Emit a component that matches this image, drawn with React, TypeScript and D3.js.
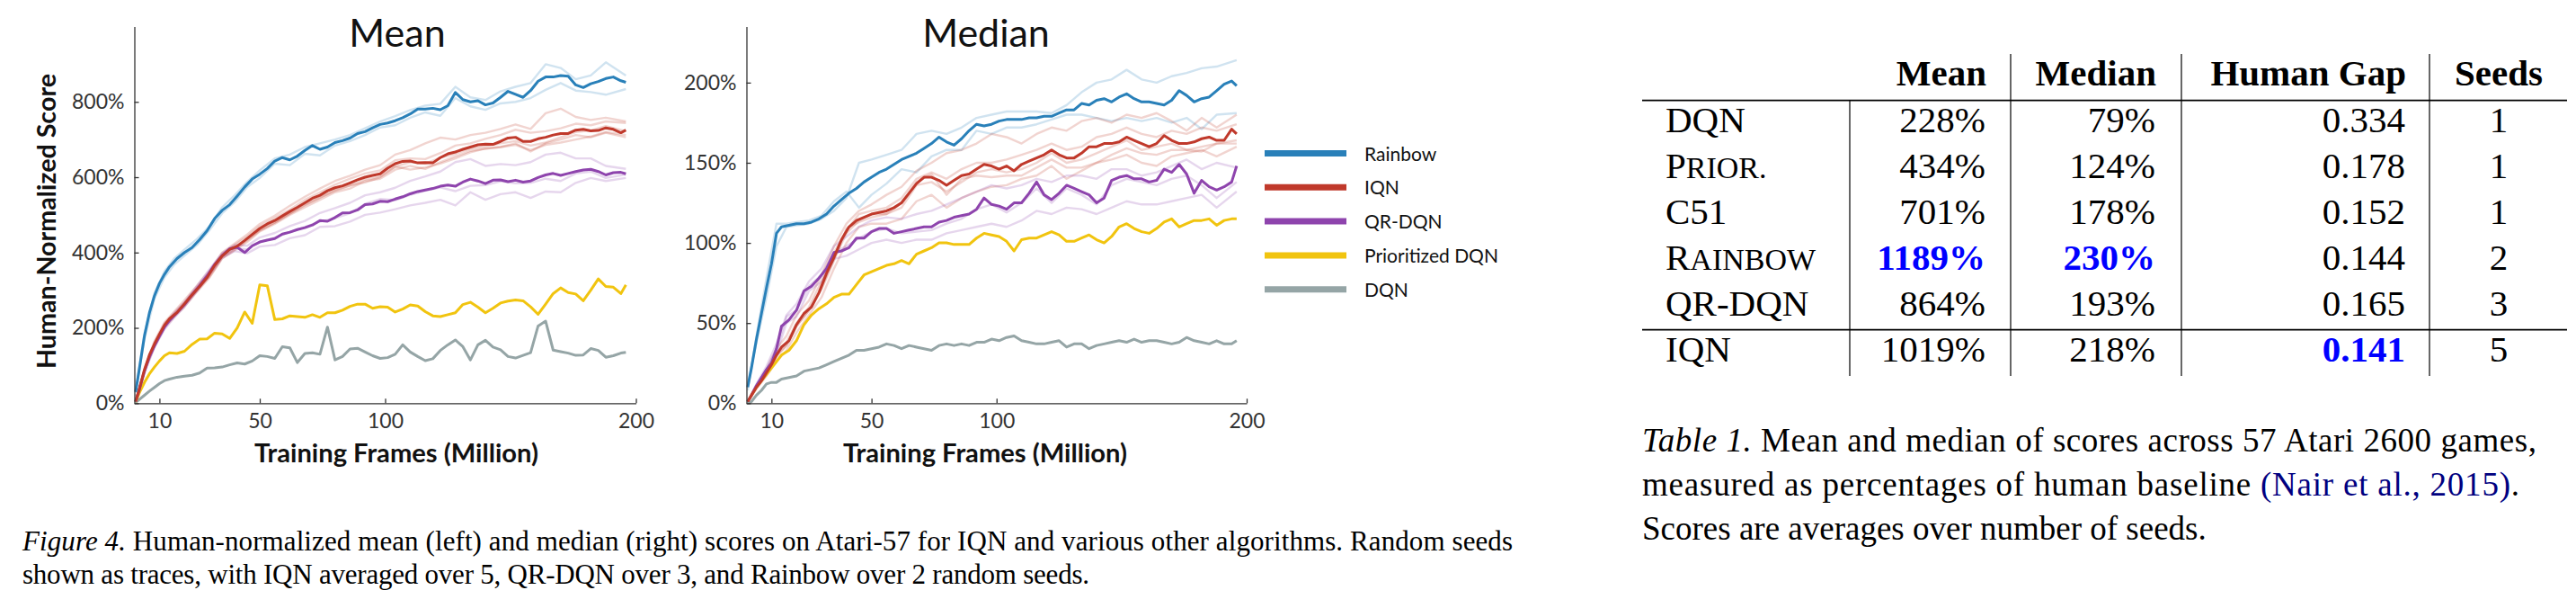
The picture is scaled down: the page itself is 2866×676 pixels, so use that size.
import React, { useEffect, useRef } from 'react';
import * as d3 from 'd3';

const WIDTH = 2866;
const HEIGHT = 676;
const FONT = "Lato, 'Open Sans', sans-serif";
const SERIF = "'Liberation Serif', 'Times New Roman', serif";

// training frames (million) for the averaged curves, and a coarser grid for the seed traces
const FRAMES = [
  0.5, 2, 4, 6, 8, 10, 12, 14,
  17, 20, 23, 26, 29, 32, 35, 38, 41, 44,
  47, 50, 53, 56, 59, 62, 65, 68, 71, 74,
  77, 80, 83, 86, 89, 92, 95, 98, 101, 104,
  107, 110, 113, 116, 119, 122, 125, 128, 131, 134,
  137, 140, 143, 146, 149, 152, 155, 158, 161, 164,
  167, 170, 173, 176, 179, 182, 185, 188, 191, 194,
  196,
];
const SEED_FRAMES = [
  0.5, 4, 8, 12, 16, 20, 25, 30, 35, 40, 45, 50,
  56, 62, 68, 74, 80, 86, 92, 98, 104, 110, 116, 122,
  128, 134, 140, 146, 152, 158, 164, 170, 176, 182, 188, 196,
];

const methods = ['Rainbow', 'IQN', 'QR-DQN', 'Prioritized DQN', 'DQN'];
const methodColors = ['#2980b9', '#c0392b', '#8e44ad', '#f1c40f', '#95a5a6'];

// ---- Mean (human-normalized %) ----
const meanRainbow = [
  30, 92, 178, 240, 285, 318, 342, 362,
  384, 400, 413, 434, 458, 490, 512, 527, 550, 574,
  595, 608, 623, 643, 652, 646, 656, 671, 684, 674,
  680, 692, 697, 704, 716, 721, 731, 740, 744, 750,
  758, 768, 781, 781, 783, 779, 790, 825, 806, 800,
  803, 792, 797, 812, 828, 820, 812, 830, 855, 866,
  866, 870, 868, 845, 838, 848, 854, 862, 866, 856,
  852,
];
const meanIqn = [
  5, 38, 88, 128, 157, 183, 207, 224,
  241, 264, 288, 310, 334, 366, 391, 408, 417, 432,
  448, 464, 476, 485, 497, 509, 520, 532, 544, 552,
  564, 572, 577, 585, 593, 600, 605, 609, 624, 636,
  642, 643, 638, 639, 638, 652, 662, 667, 674, 680,
  686, 688, 687, 695, 704, 706, 695, 695, 702, 706,
  712, 716, 716, 725, 727, 723, 724, 731, 727, 718,
  725,
];
const meanQr = [
  4, 36, 84, 124, 152, 178, 202, 220,
  240, 262, 288, 312, 338, 368, 392, 410, 414, 400,
  418, 428, 433, 437, 449, 454, 461, 466, 473, 485,
  483, 493, 505, 506, 513, 527, 529, 536, 535, 542,
  548, 556, 562, 566, 570, 576, 579, 576, 587, 595,
  590, 583, 592, 593, 588, 592, 587, 590, 599, 606,
  610, 605, 610, 615, 619, 621, 615, 606, 612, 613,
  609,
];
const meanPrior = [
  3, 28, 55, 78, 96, 112, 126, 134,
  132, 138, 156, 170, 171, 186, 184, 172, 200, 242,
  212, 314, 312, 222, 224, 232, 230, 228, 235, 228,
  240, 240, 247, 257, 263, 263, 252, 256, 255, 242,
  250, 261, 258, 243, 232, 230, 235, 240, 262, 268,
  255, 240, 252, 266, 271, 274, 272, 256, 236, 263,
  291, 306, 294, 290, 272, 300, 330, 310, 308, 291,
  314,
];
const meanDqn = [
  2, 10, 21, 32, 42, 52, 60, 64,
  69, 72, 74, 80, 93, 94, 96, 102, 107, 104,
  112, 126, 124, 119, 150, 147, 108, 132, 134, 130,
  202, 115, 124, 144, 146, 136, 126, 119, 121, 130,
  155, 136, 124, 113, 118, 140, 155, 168, 150, 115,
  155, 167, 149, 142, 124, 120, 127, 134, 205, 218,
  141, 137, 133, 127, 128, 145, 140, 122, 126, 133,
  135,
];
const meanRainbowSeeds = [
  [32, 185, 292, 350, 385, 408, 436, 470, 520, 552, 588, 618,
    650, 660, 680, 690, 700, 712, 730, 748, 762, 778, 790, 795,
    840, 812, 805, 828, 840, 850, 900, 890, 860, 870, 905, 870],
  [28, 170, 278, 334, 369, 392, 420, 460, 504, 534, 574, 598,
    636, 632, 662, 658, 684, 696, 712, 732, 738, 758, 772, 763,
    810, 788, 779, 796, 800, 810, 832, 850, 830, 826, 819, 834],
];
const meanIqnSeeds = [
  [6, 92, 165, 215, 244, 274, 312, 352, 400, 424, 448, 476,
    498, 524, 548, 570, 590, 604, 620, 632, 660, 672, 690, 705,
    700, 712, 718, 728, 740, 728, 770, 782, 760, 752, 758, 748],
  [4, 84, 150, 200, 230, 256, 296, 334, 384, 406, 428, 456,
    476, 500, 520, 540, 560, 570, 590, 596, 620, 630, 622, 640,
    655, 670, 676, 680, 690, 668, 690, 700, 712, 706, 718, 706],
  [5, 90, 160, 212, 240, 268, 308, 348, 396, 420, 442, 470,
    492, 514, 540, 560, 580, 596, 610, 618, 645, 650, 648, 664,
    684, 690, 702, 712, 726, 718, 722, 730, 742, 738, 748, 744],
  [5, 86, 154, 204, 232, 260, 300, 336, 386, 408, 432, 458,
    480, 504, 526, 546, 566, 578, 594, 602, 628, 640, 636, 652,
    662, 676, 682, 690, 696, 684, 692, 706, 720, 724, 736, 722],
  [5, 88, 156, 204, 234, 262, 299, 340, 389, 412, 435, 460,
    479, 503, 526, 546, 564, 578, 586, 600, 628, 620, 626, 636,
    650, 666, 676, 680, 686, 672, 686, 692, 700, 708, 720, 712],
];
const meanQrSeeds = [
  [4, 86, 156, 208, 240, 268, 312, 356, 398, 420, 418, 440,
    452, 470, 484, 505, 518, 532, 552, 560, 572, 590, 602, 615,
    640, 648, 630, 635, 632, 640, 660, 665, 650, 650, 630, 622],
  [3, 80, 148, 196, 228, 256, 298, 342, 386, 404, 398, 416,
    420, 438, 446, 468, 470, 482, 500, 506, 515, 525, 532, 540,
    525, 560, 540, 555, 560, 545, 562, 560, 585, 598, 590, 598],
  [5, 86, 152, 202, 234, 262, 302, 346, 392, 412, 408, 428,
    440, 454, 468, 482, 491, 504, 529, 542, 539, 553, 564, 573,
    563, 577, 579, 589, 584, 585, 596, 590, 610, 615, 598, 607],
];

// ---- Median (human-normalized %) ----
const medRainbow = [
  10, 22, 40, 56, 72, 87, 106, 110,
  111, 112, 112, 113, 115, 118, 123, 127, 131, 134,
  138, 141, 144, 146, 149, 152, 154, 156, 159, 162,
  166, 163, 161, 165, 170, 174, 173, 174, 176, 177,
  177, 177, 178, 178, 179, 179, 181, 183, 183, 187,
  186, 189, 190, 188, 191, 193, 190, 188, 188, 187,
  186, 189, 195, 192, 188, 190, 191, 195, 199, 201,
  198,
];
const medIqn = [
  1, 5, 10, 14, 19, 24, 30, 35,
  39, 49, 56, 60, 69, 81, 91, 102, 110, 114,
  116, 118, 119, 120, 122, 125, 131, 137, 141, 141,
  139, 136, 139, 142, 143, 146, 149, 148, 146, 148,
  145, 149, 151, 153, 155, 158, 155, 153, 153, 156,
  160, 160, 162, 162, 163, 166, 164, 162, 160, 162,
  167, 164, 162, 162, 163, 165, 166, 164, 164, 171,
  168,
];
const medQr = [
  1, 5, 11, 16, 21, 25, 34, 48,
  52, 58, 70, 73, 78, 84, 94, 95, 97, 103,
  103, 107, 109, 109, 106, 107, 108, 109, 110, 110,
  113, 114, 116, 117, 118, 121, 128, 124, 123, 121,
  125, 125, 131, 138, 130, 127, 131, 136, 134, 132,
  130, 125, 128, 139, 141, 142, 140, 140, 138, 139,
  146, 144, 149, 143, 131, 139, 135, 133, 135, 138,
  148,
];
const medPrior = [
  1, 5, 10, 14, 18, 22, 26, 30,
  33, 39, 49, 55, 59, 62, 66, 68, 68, 74,
  80, 82, 84, 86, 87, 89, 87, 93, 95, 97,
  100, 100, 99, 99, 99, 103, 106, 105, 104, 101,
  95, 102, 103, 103, 105, 107, 105, 101, 101, 103,
  105, 102, 100, 104, 110, 112, 109, 107, 106, 109,
  113, 115, 110, 112, 114, 114, 115, 111, 114, 115,
  115,
];
const medDqn = [
  0, 1, 5, 8, 12, 13, 13, 15,
  16, 17, 20, 21, 22, 24, 26, 28, 30, 33,
  33, 34, 35, 37, 36, 34, 36, 35, 34, 33,
  36, 37, 36, 37, 36, 38, 38, 40, 39, 41,
  42, 39, 38, 37, 37, 38, 39, 35, 37, 37,
  34, 36, 37, 38, 39, 38, 40, 38, 39, 39,
  38, 37, 38, 41, 39, 38, 37, 39, 37, 37,
  39,
];
const medRainbowSeeds = [
  [12, 38, 66, 98, 110, 111, 112, 115, 120, 128, 150, 152,
    155, 158, 168, 170, 168, 172, 178, 180, 182, 182, 182, 181,
    186, 194, 200, 202, 208, 202, 200, 204, 206, 209, 210, 214],
  [8, 42, 78, 112, 112, 113, 114, 117, 126, 132, 122, 130,
    137, 146, 144, 154, 158, 158, 170, 168, 172, 172, 174, 177,
    180, 180, 178, 176, 178, 176, 178, 175, 178, 171, 180, 181],
];
const medIqnSeeds = [
  [1, 11, 21, 34, 42, 55, 64, 80, 98, 112, 120, 124,
    130, 135, 145, 150, 156, 158, 162, 168, 166, 162, 168, 172,
    170, 176, 178, 175, 180, 178, 181, 176, 170, 178, 172, 180],
  [1, 9, 17, 26, 33, 44, 55, 66, 84, 100, 110, 112,
    112, 115, 126, 130, 122, 128, 132, 135, 136, 140, 142, 148,
    140, 145, 150, 152, 155, 150, 148, 154, 156, 158, 154, 160],
  [1, 10, 20, 31, 38, 50, 60, 76, 94, 108, 118, 120,
    122, 128, 140, 144, 140, 146, 150, 150, 152, 155, 158, 162,
    158, 160, 166, 168, 172, 168, 166, 170, 168, 172, 170, 174],
  [1, 10, 18, 29, 36, 48, 58, 72, 90, 106, 114, 118,
    118, 122, 136, 138, 132, 138, 144, 146, 144, 146, 150, 156,
    150, 152, 156, 160, 164, 158, 160, 162, 158, 160, 162, 164],
  [1, 10, 19, 30, 36, 48, 58, 71, 89, 109, 113, 116,
    118, 125, 138, 143, 130, 140, 142, 141, 142, 142, 147, 152,
    147, 147, 150, 155, 159, 156, 155, 158, 158, 157, 162, 162],
];
const medQrSeeds = [
  [1, 12, 23, 37, 55, 62, 76, 84, 98, 104, 110, 114,
    116, 115, 118, 120, 124, 128, 132, 136, 134, 136, 140, 138,
    142, 142, 140, 146, 146, 142, 144, 148, 152, 146, 150, 147],
  [1, 10, 19, 31, 50, 54, 70, 76, 90, 92, 96, 100,
    102, 100, 102, 102, 106, 108, 110, 112, 110, 114, 120, 118,
    122, 121, 118, 122, 126, 124, 124, 126, 128, 130, 122, 132],
  [1, 11, 21, 34, 54, 58, 73, 80, 94, 98, 103, 107,
    109, 106, 107, 108, 112, 115, 121, 124, 119, 125, 134, 125,
    134, 130, 124, 136, 140, 138, 136, 140, 142, 136, 128, 138],
];

const xTicks = [10, 50, 100, 200];
const meanYTicks = [0, 200, 400, 600, 800];
const medianYTicks = [0, 50, 100, 150, 200];

// ---- Table 1 ----
const tableHeaders = ['Mean', 'Median', 'Human Gap', 'Seeds'];
const tableMethods = ['DQN', 'Prior.', 'C51', 'Rainbow', 'QR-DQN', 'IQN'];
const tableMean = [228, 434, 701, 1189, 864, 1019];
const tableMedian = [79, 124, 178, 230, 193, 218];
const tableGap = [0.334, 0.178, 0.152, 0.144, 0.165, 0.141];
const tableSeeds = [1, 1, 1, 2, 3, 5];

const PLOT_TOP = 29.5;
const PLOT_BOTTOM = 448.3;

const panels = [
  {
    title: 'Mean', left: 149.5, right: 707.5, yMax: 1000, yTicks: meanYTicks,
    titleX: 442, labelX: 441, yLabel: true,
    mains: [meanRainbow, meanIqn, meanQr, meanPrior, meanDqn],
    seeds: [meanRainbowSeeds, meanIqnSeeds, meanQrSeeds, [], []],
  },
  {
    title: 'Median', left: 830.5, right: 1387, yMax: 235, yTicks: medianYTicks,
    titleX: 1097, labelX: 1096, yLabel: false,
    mains: [medRainbow, medIqn, medQr, medPrior, medDqn],
    seeds: [medRainbowSeeds, medIqnSeeds, medQrSeeds, [], []],
  },
];

function styleAxis(sel) {
  sel.attr('font-family', null).attr('font-size', null);
  sel.select('.domain').attr('stroke', '#333').attr('stroke-width', 1.3);
  sel.selectAll('.tick line').attr('stroke', '#333').attr('stroke-width', 1.3);
  sel.selectAll('.tick text')
    .attr('fill', '#333')
    .style('font-family', FONT)
    .style('font-size', '23px');
}

function drawPanel(root, p) {
  const x = d3.scaleLinear().domain([0, 200]).range([p.left, p.right]);
  const y = d3.scaleLinear().domain([0, p.yMax]).range([PLOT_BOTTOM, PLOT_TOP]);
  const g = root.append('g');

  const lineFor = (frames) =>
    d3.line().x((_, i) => x(frames[i])).y((d) => y(d));

  // faint per-seed traces
  p.seeds.forEach((traces, m) => {
    traces.forEach((vals) => {
      g.append('path')
        .attr('d', lineFor(SEED_FRAMES)(vals))
        .attr('fill', 'none')
        .attr('stroke', methodColors[m])
        .attr('stroke-opacity', 0.22)
        .attr('stroke-width', 2.4)
        .attr('stroke-linejoin', 'round');
    });
  });

  // averaged curves, Rainbow last so it sits on top
  [4, 3, 2, 1, 0].forEach((m) => {
    g.append('path')
      .attr('d', lineFor(FRAMES)(p.mains[m]))
      .attr('fill', 'none')
      .attr('stroke', methodColors[m])
      .attr('stroke-width', 3)
      .attr('stroke-linejoin', 'round');
  });

  const xAxis = g.append('g')
    .attr('transform', `translate(0,${PLOT_BOTTOM})`)
    .call(d3.axisBottom(x).tickValues(xTicks).tickSize(-5).tickSizeOuter(0).tickPadding(11));
  styleAxis(xAxis);

  const yAxis = g.append('g')
    .attr('transform', `translate(${p.left},0)`)
    .call(d3.axisLeft(y).tickValues(p.yTicks).tickSize(-5).tickSizeOuter(0).tickPadding(11)
      .tickFormat((d) => `${d}%`));
  styleAxis(yAxis);

  g.append('text')
    .attr('x', p.titleX)
    .attr('y', 52)
    .attr('text-anchor', 'middle')
    .style('font-family', FONT)
    .style('font-size', '43px')
    .attr('fill', '#111')
    .text(p.title);

  // axis titles are stretched to the width they have in the figure
  g.append('text')
    .attr('x', p.labelX)
    .attr('y', 514)
    .attr('text-anchor', 'middle')
    .attr('textLength', 316)
    .attr('lengthAdjust', 'spacingAndGlyphs')
    .style('font-family', FONT)
    .style('font-size', '29px')
    .style('font-weight', 700)
    .attr('fill', '#111')
    .text('Training Frames (Million)');

  if (p.yLabel) {
    g.append('text')
      .attr('transform', `translate(62,246) rotate(-90)`)
      .attr('text-anchor', 'middle')
      .attr('textLength', 328)
      .attr('lengthAdjust', 'spacingAndGlyphs')
      .style('font-family', FONT)
      .style('font-size', '29px')
      .style('font-weight', 700)
      .attr('fill', '#111')
      .text('Human-Normalized Score');
  }
}

function drawLegend(root) {
  const lg = root.append('g');
  methods.forEach((name, i) => {
    const yy = 170.5 + i * 37.8;
    lg.append('line')
      .attr('x1', 1407).attr('x2', 1498)
      .attr('y1', yy).attr('y2', yy)
      .attr('stroke', methodColors[i])
      .attr('stroke-width', 7);
    lg.append('text')
      .attr('x', 1518)
      .attr('y', yy + 8)
      .style('font-family', FONT)
      .style('font-size', '21px')
      .attr('fill', '#111')
      .text(name);
  });
}

function SmallCaps({ text }) {
  if (!/[a-z]/.test(text)) return <>{text}</>;
  return (
    <>
      {text[0]}
      <tspan fontSize={34}>{text.slice(1).toUpperCase()}</tspan>
    </>
  );
}

function Table() {
  const left = 1827;
  const right = 2856;
  const headerRule = 111.7;
  const midRule = 366.7;
  const seps = [2058, 2237, 2427, 2703];
  const rowY = (i) => 147.3 + i * 51;
  const bestMean = d3.max(tableMean);
  const bestMedian = d3.max(tableMedian);
  const bestGap = d3.min(tableGap);
  const hi = { fill: '#0000ff', fontWeight: 700 };
  const headerX = [2210, 2399, 2677, 2780];

  return (
    <g style={{ fontFamily: SERIF }} fontSize={41} fill="#000">
      {tableHeaders.map((h, i) => (
        <text key={h} x={headerX[i]} y={95} fontWeight={700}
          textAnchor={i === 3 ? 'middle' : 'end'}>{h}</text>
      ))}
      <line x1={left} x2={right} y1={headerRule} y2={headerRule} stroke="#000" strokeWidth={1.8} />
      <line x1={left} x2={right} y1={midRule} y2={midRule} stroke="#000" strokeWidth={1.8} />
      {seps.map((sx, i) => (
        <line key={sx} x1={sx} x2={sx} y1={i === 0 ? headerRule : 60} y2={418}
          stroke="#000" strokeWidth={1.2} />
      ))}
      {tableMethods.map((m, i) => (
        <g key={m}>
          <text x={1853} y={rowY(i)}><SmallCaps text={m} /></text>
          <text x={2209} y={rowY(i)} textAnchor="end"
            style={tableMean[i] === bestMean ? hi : undefined}>{tableMean[i]}%</text>
          <text x={2398} y={rowY(i)} textAnchor="end"
            style={tableMedian[i] === bestMedian ? hi : undefined}>{tableMedian[i]}%</text>
          <text x={2676} y={rowY(i)} textAnchor="end"
            style={tableGap[i] === bestGap ? hi : undefined}>{tableGap[i].toFixed(3)}</text>
          <text x={2780} y={rowY(i)} textAnchor="middle">{tableSeeds[i]}</text>
        </g>
      ))}
    </g>
  );
}

function Captions() {
  return (
    <g style={{ fontFamily: SERIF }} fill="#000">
      <text x={25} y={612} fontSize={31} textLength={1658} lengthAdjust="spacing">
        <tspan fontStyle="italic">Figure 4.</tspan> Human-normalized mean (left) and median (right) scores on Atari-57 for IQN and various other algorithms. Random seeds
      </text>
      <text x={25} y={649} fontSize={31} textLength={1187} lengthAdjust="spacing">
        shown as traces, with IQN averaged over 5, QR-DQN over 3, and Rainbow over 2 random seeds.
      </text>
      <text x={1827} y={502} fontSize={37} textLength={995} lengthAdjust="spacing">
        <tspan fontStyle="italic">Table 1.</tspan> Mean and median of scores across 57 Atari 2600 games,
      </text>
      <text x={1827} y={551} fontSize={37} textLength={976} lengthAdjust="spacing">
        measured as percentages of human baseline <tspan fill="#000080">(Nair et al., 2015)</tspan>.
      </text>
      <text x={1827} y={600} fontSize={37}>
        Scores are averages over number of seeds.
      </text>
    </g>
  );
}

export default function App() {
  const svgRef = useRef(null);

  useEffect(() => {
    const svg = d3.select(svgRef.current);
    svg.selectAll('g.charts').remove();
    const root = svg.append('g').attr('class', 'charts');
    panels.forEach((p) => drawPanel(root, p));
    drawLegend(root);
  }, []);

  return (
    <div style={{ position: 'absolute', left: 0, top: 0 }}>
      <svg ref={svgRef} width={WIDTH} height={HEIGHT} style={{ display: 'block', background: '#fff' }}>
        <rect width={WIDTH} height={HEIGHT} fill="#fff" />
        <Table />
        <Captions />
      </svg>
    </div>
  );
}
